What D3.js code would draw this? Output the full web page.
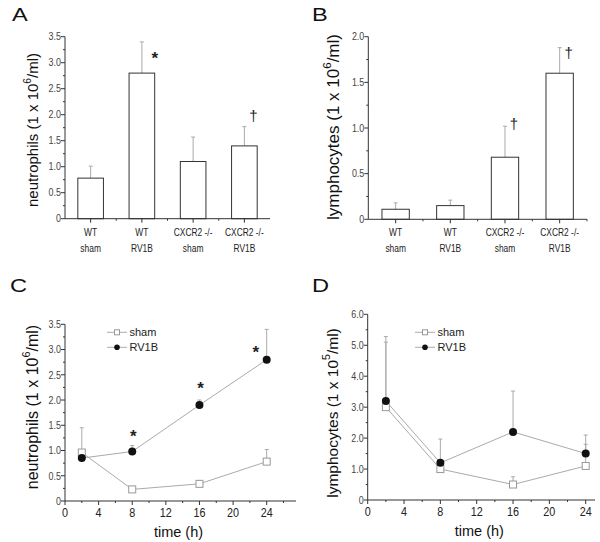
<!DOCTYPE html>
<html><head><meta charset="utf-8">
<script src="https://cdn.jsdelivr.net/npm/d3@7"></script>
<style>body{margin:0;background:#fff}svg{display:block}text{font-family:"Liberation Sans",Arial,sans-serif}</style>
</head><body>
<svg id="c" width="600" height="542"></svg>
<script>
// ---- data ----
const barCats = ["WT|sham", "WT|RV1B", "CXCR2 -/-|sham", "CXCR2 -/-|RV1B"];
const neutroMean = [0.78, 2.80, 1.10, 1.40];
const neutroErr  = [1.01, 3.40, 1.57, 1.77];
const neutroMarks = ["", "*", "", "†"];
const neutroMarkY = [null, 3.14, null, 1.97];
const lymphoMean = [0.11, 0.15, 0.68, 1.60];
const lymphoErr  = [0.18, 0.21, 1.02, 1.88];
const lymphoMarks = ["", "", "†", "†"];
const lymphoMarkY = [null, null, 1.04, 1.82];

const times = [2, 8, 16, 24];
const cShamMean = [0.96, 0.23, 0.34, 0.78];
const cShamErr  = [1.45, 0.23, 0.40, 1.02];
const cRVMean   = [0.85, 0.98, 1.90, 2.80];
const cRVErr    = [0.85, 1.10, 2.00, 3.40];
const cMarks    = [null, 1.35, 2.29, 3.02];

const dShamMean = [3.0, 1.0, 0.5, 1.1];
const dShamErr  = [5.28, 1.0, 0.75, 1.80];
const dRVMean   = [3.2, 1.2, 2.2, 1.5];
const dRVErr    = [5.10, 1.97, 3.52, 2.10];

const svg = d3.select("#c");
const AX = "#333", ERR = "#aaa", LINE = "#aaa";

// text with horizontal scale
function txt(parent, x, y, str, o) {
  o = Object.assign({size: 11, sx: 1, anchor: "start", fill: "#222", dy: null, weight: "normal"}, o || {});
  const g = parent.append("g").attr("transform", `translate(${x},${y}) scale(${o.sx},1)`);
  const t = g.append("text").attr("x", 0).attr("y", 0).attr("text-anchor", o.anchor).attr("font-size", o.size)
    .attr("fill", o.fill).attr("font-weight", o.weight).text(str);
  if (o.dy) t.attr("dy", o.dy);
  return t;
}

function yAxisDraw(g, y, ticks, fmt, minor) {
  g.append("line").attr("x1", 0).attr("x2", 0).attr("y1", y.range()[0]).attr("y2", y.range()[1]).attr("stroke", AX);
  minor.forEach(v => g.append("line").attr("x1", 0).attr("x2", -2).attr("y1", y(v)).attr("y2", y(v)).attr("stroke", AX));
  ticks.forEach(v => {
    g.append("line").attr("x1", 0).attr("x2", -4).attr("y1", y(v)).attr("y2", y(v)).attr("stroke", AX);
    txt(g, -4, y(v), fmt(v), {size: 10.5, sx: 0.85, anchor: "end", fill: "#444", dy: "0.36em"});
  });
}

function yTitle(x, yc, size, main, sup, tail) {
  const t = svg.append("text").attr("transform", `translate(${x},${yc}) rotate(-90)`).attr("text-anchor", "middle")
    .attr("font-size", size).attr("fill", "#111");
  t.append("tspan").text(main);
  t.append("tspan").attr("font-size", size * 0.68).attr("dy", -size * 0.5).text(sup);
  t.append("tspan").attr("dy", size * 0.5).text(tail);
}

function panelLabel(x, y, s) {
  txt(svg, x, y, s, {size: 17.5, sx: 1.35, fill: "#111"});
}

function barPanel(ox, y0, y1, xEnd, domainMax, ticks, fmt, minor, means, errs, marks, markY) {
  const g = svg.append("g").attr("transform", `translate(${ox},0)`);
  const x = d3.scaleBand().domain(barCats).range([0, xEnd - ox]).paddingInner(0.5).paddingOuter(0.25);
  const y = d3.scaleLinear().domain([0, domainMax]).range([y0, y1]);
  barCats.forEach((c, i) => {
    const cx = x(c) + x.bandwidth() / 2;
    g.append("line").attr("x1", cx).attr("x2", cx).attr("y1", y(means[i])).attr("y2", y(errs[i])).attr("stroke", ERR);
    g.append("line").attr("x1", cx - 2).attr("x2", cx + 2).attr("y1", y(errs[i])).attr("y2", y(errs[i])).attr("stroke", ERR);
    g.append("rect").attr("x", x(c)).attr("y", y(means[i])).attr("width", x.bandwidth()).attr("height", y(0) - y(means[i]))
      .attr("fill", "none").attr("stroke", "#333");
    if (marks[i]) {
      const star = marks[i] === "*";
      const mx = star ? x(c) + x.bandwidth() : cx + 9;
      txt(g, mx, y(markY[i]) + (star ? 9 : 5), marks[i], {size: star ? 17 : 15, anchor: "middle", weight: star ? "bold" : "normal", fill: "#222"});
    }
  });
  g.append("line").attr("x1", 0).attr("x2", xEnd - ox).attr("y1", y0).attr("y2", y0).attr("stroke", AX);
  const step = x.step();
  barCats.forEach((c, i) => {
    const cx = x(c) + x.bandwidth() / 2;
    g.append("line").attr("x1", cx).attr("x2", cx).attr("y1", y0).attr("y2", y0 + 4).attr("stroke", AX);
    const mx = cx + step / 2;
    if (mx < xEnd - ox) g.append("line").attr("x1", mx).attr("x2", mx).attr("y1", y0).attr("y2", y0 + 2).attr("stroke", AX);
    const parts = c.split("|");
    txt(g, cx, y0 + 17, parts[0], {size: 10.5, sx: 0.8, anchor: "middle"});
    txt(g, cx, y0 + 33, parts[1], {size: 10.5, sx: 0.8, anchor: "middle"});
  });
  yAxisDraw(g, y, ticks, fmt, minor);
}

function linePanel(ox, y0, y1, x24, xEnd, domainMax, ticks, fmt, minor, sM, sE, rM, rE, marks, legX, legY) {
  const g = svg.append("g");
  const x = d3.scaleLinear().domain([0, 24]).range([ox, x24]);
  const y = d3.scaleLinear().domain([0, domainMax]).range([y0, y1]);
  times.forEach((t, i) => {
    [[sM, sE], [rM, rE]].forEach(([m, e]) => {
      if (e[i] > m[i]) {
        g.append("line").attr("x1", x(t)).attr("x2", x(t)).attr("y1", y(m[i])).attr("y2", y(e[i])).attr("stroke", ERR);
        g.append("line").attr("x1", x(t) - 2).attr("x2", x(t) + 2).attr("y1", y(e[i])).attr("y2", y(e[i])).attr("stroke", ERR);
      }
    });
  });
  const ln = d3.line().x((d, i) => x(times[i])).y(d => y(d));
  g.append("path").attr("d", ln(sM)).attr("fill", "none").attr("stroke", LINE);
  g.append("path").attr("d", ln(rM)).attr("fill", "none").attr("stroke", LINE);
  sM.forEach((v, i) => g.append("rect").attr("x", x(times[i]) - 3.5).attr("y", y(v) - 3.5).attr("width", 7).attr("height", 7)
    .attr("fill", "#fff").attr("stroke", "#999"));
  rM.forEach((v, i) => g.append("circle").attr("cx", x(times[i])).attr("cy", y(v)).attr("r", 4).attr("fill", "#111"));
  if (marks) marks.forEach((v, i) => {
    if (v == null) return;
    const tx = i === 3 ? x(times[i]) - 11 : x(times[i]) + 1;
    txt(g, tx, y(v) + 9, "*", {size: 17, anchor: "middle", weight: "bold"});
  });
  g.append("line").attr("x1", ox).attr("x2", xEnd).attr("y1", y0).attr("y2", y0).attr("stroke", AX);
  d3.range(2, 30, 4).forEach(t => {
    if (x(t) <= xEnd) g.append("line").attr("x1", x(t)).attr("x2", x(t)).attr("y1", y0).attr("y2", y0 + 2).attr("stroke", AX);
  });
  d3.range(0, 25, 4).forEach(t => {
    g.append("line").attr("x1", x(t)).attr("x2", x(t)).attr("y1", y0).attr("y2", y0 + 4).attr("stroke", AX);
    txt(g, x(t), y0 + 16, String(t), {size: 12, sx: 0.9, anchor: "middle"});
  });
  txt(svg, (ox + xEnd) / 2 - 2, y0 + 36, "time (h)", {size: 14.5, anchor: "middle", fill: "#111"});
  const gy = svg.append("g").attr("transform", `translate(${ox},0)`);
  yAxisDraw(gy, y, ticks, fmt, minor);
  [legY, legY + 15].forEach((yy, k) => {
    svg.append("line").attr("x1", legX).attr("x2", legX + 20).attr("y1", yy).attr("y2", yy).attr("stroke", LINE);
    if (k === 0) svg.append("rect").attr("x", legX + 7.5).attr("y", yy - 2.5).attr("width", 5).attr("height", 5).attr("fill", "#fff").attr("stroke", "#999");
    else svg.append("circle").attr("cx", legX + 10).attr("cy", yy).attr("r", 2.8).attr("fill", "#111");
    txt(svg, legX + 22.5, yy, k === 0 ? "sham" : "RV1B", {size: 11, dy: "0.36em"});
  });
}

const f1 = v => v === 0 ? "0" : d3.format(".1f")(v);

// Panel A
barPanel(65, 218.7, 36.7, 270, 3.5, d3.range(0, 3.51, 0.5), f1, d3.range(0.25, 3.5, 0.5), neutroMean, neutroErr, neutroMarks, neutroMarkY);
yTitle(38, 130, 15, "neutrophils (1 x 10", "6", "/ml)");
panelLabel(12, 21, "A");

// Panel B
barPanel(368.3, 219.3, 36.7, 587, 2.0, d3.range(0, 2.01, 0.5), f1, d3.range(0.25, 2.0, 0.5), lymphoMean, lymphoErr, lymphoMarks, lymphoMarkY);
yTitle(339, 127, 17, "lymphocytes (1 x 10", "6", "/ml)");
panelLabel(312, 21, "B");

// Panel C
linePanel(65, 501, 324.3, 266.7, 296, 3.5, d3.range(0, 3.51, 0.5), f1, d3.range(0.25, 3.5, 0.5),
  cShamMean, cShamErr, cRVMean, cRVErr, cMarks, 107, 332.3);
yTitle(38, 407, 16, "neutrophils (1 x 10", "6", "/ml)");
panelLabel(10, 292, "C");

// Panel D
linePanel(367.7, 500, 314.3, 585.7, 595, 6.0, d3.range(0, 6.01, 1), f1, d3.range(0.5, 6, 1),
  dShamMean, dShamErr, dRVMean, dRVErr, null, 415, 332.3);
yTitle(338, 413, 15.5, "lymphocytes (1 x 10", "5", "/ml)");
panelLabel(312, 292, "D");
</script>
</body></html>
